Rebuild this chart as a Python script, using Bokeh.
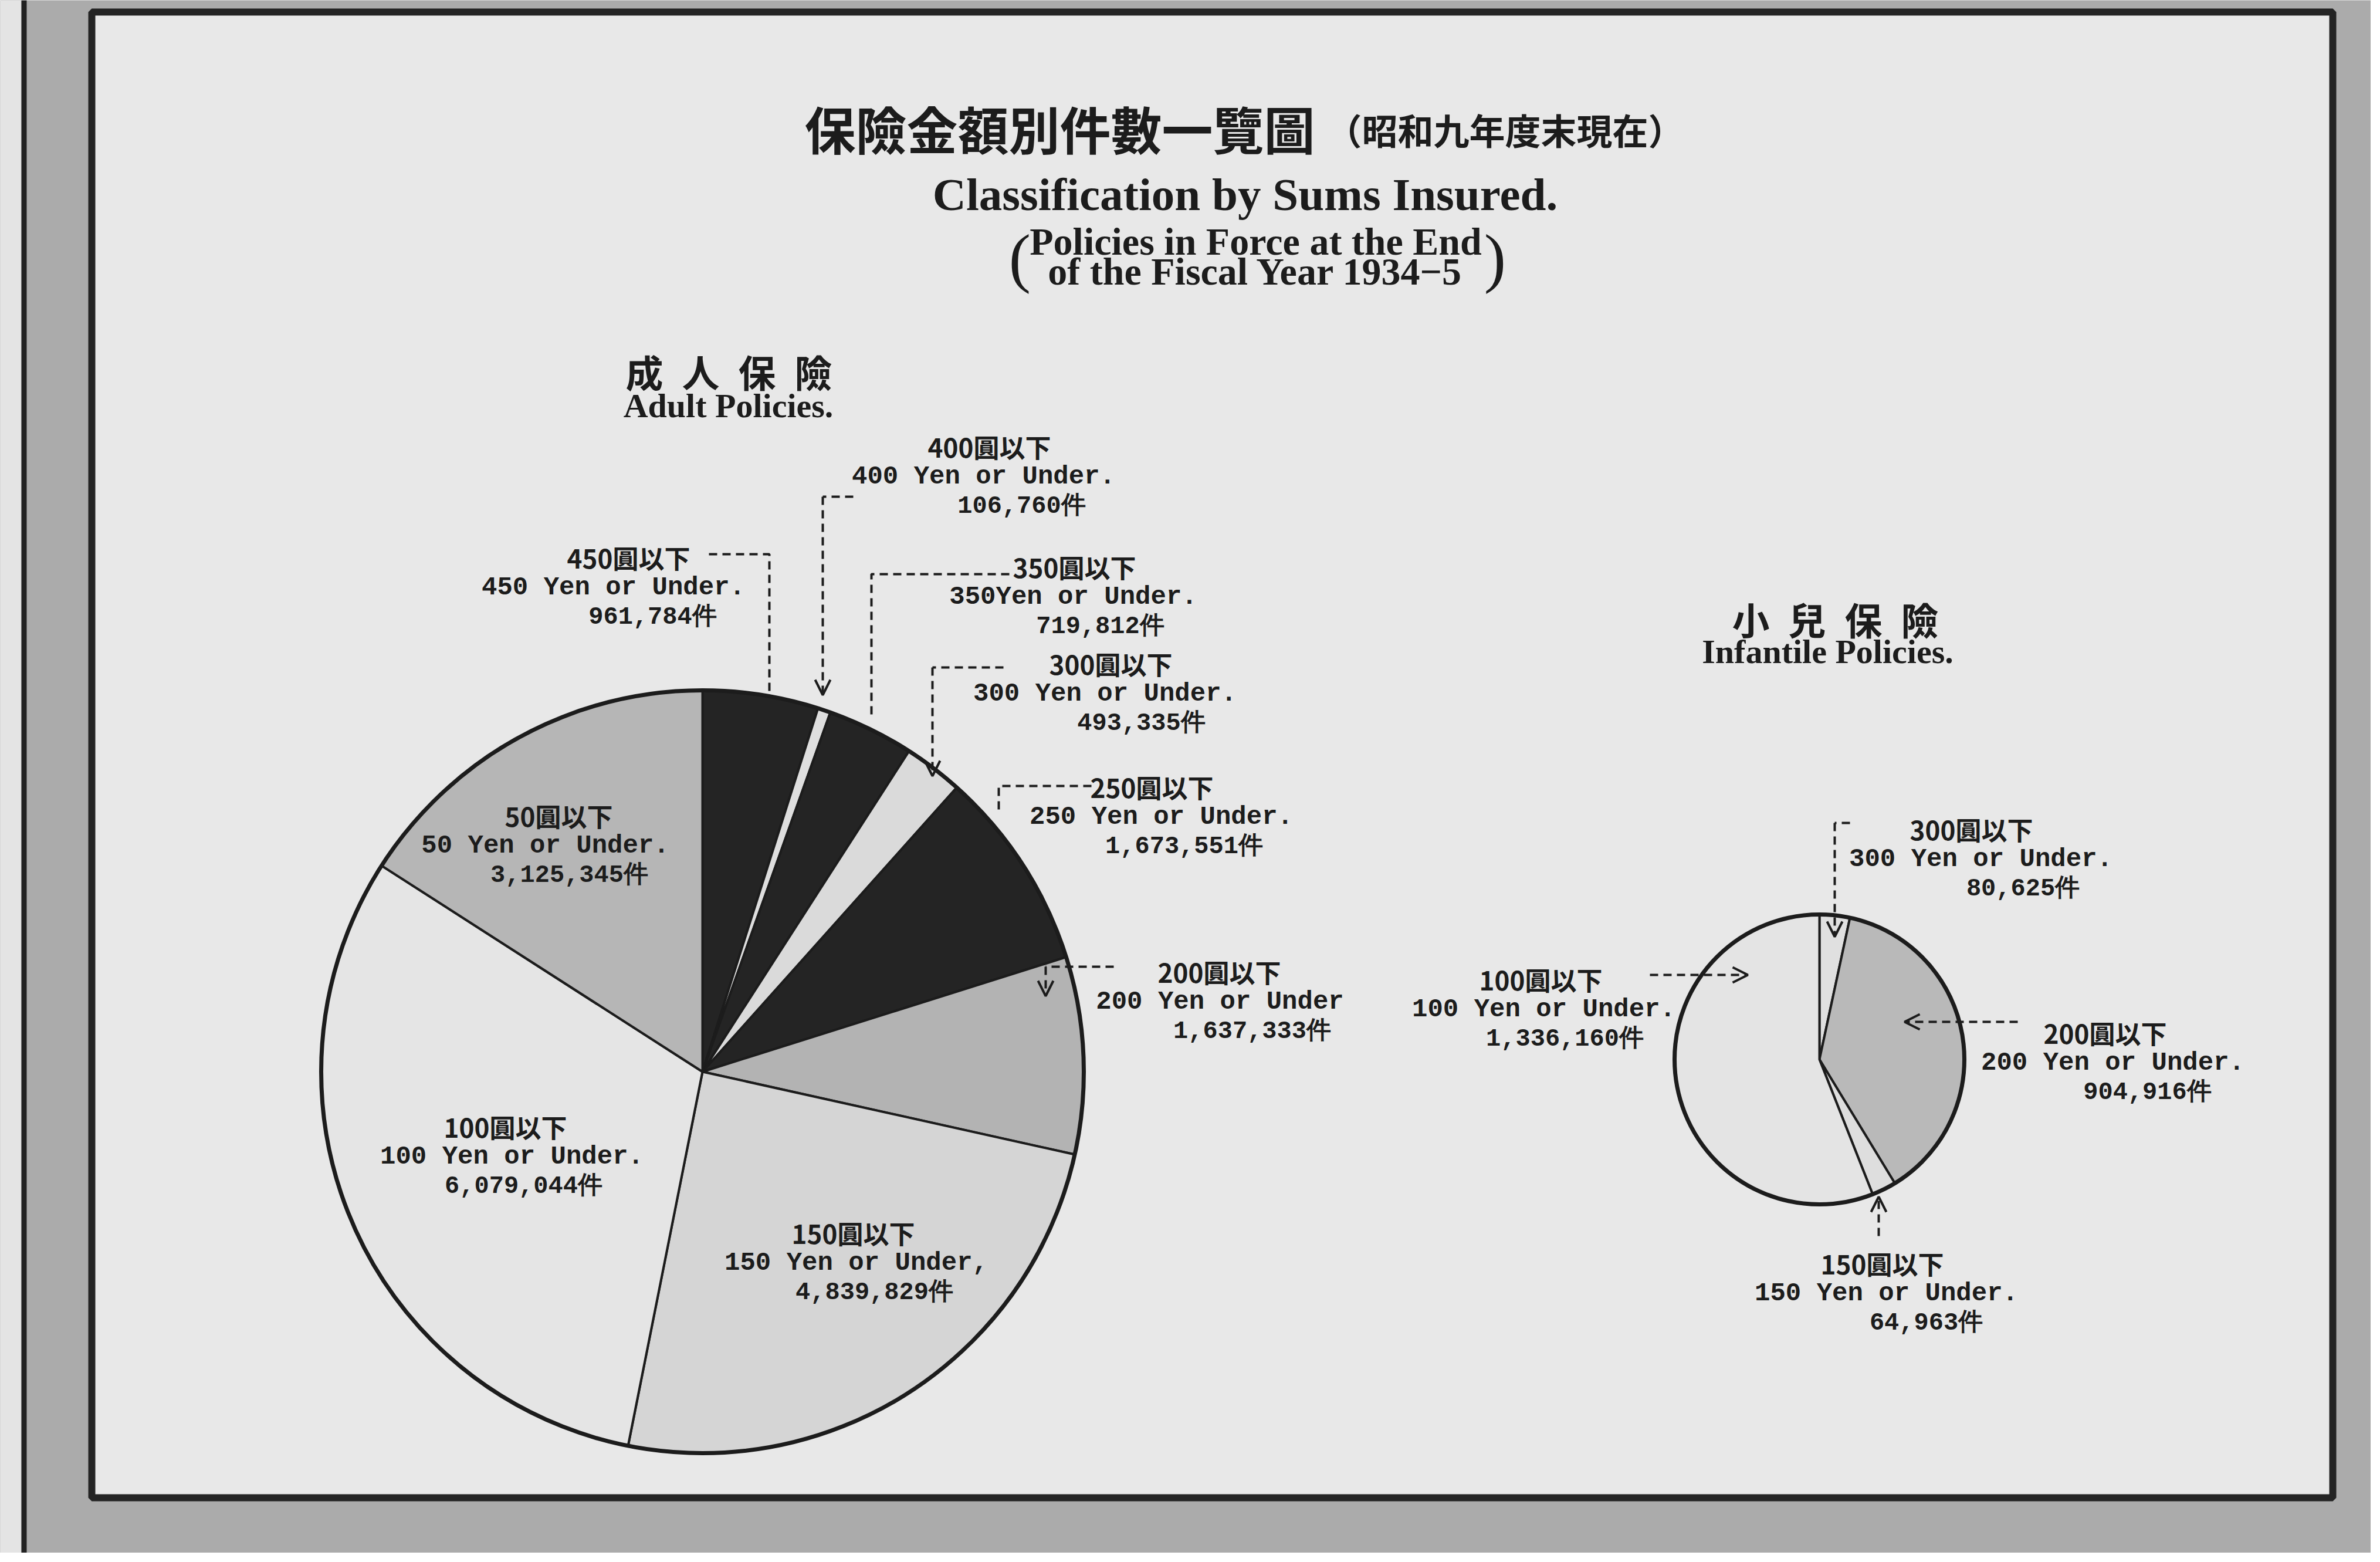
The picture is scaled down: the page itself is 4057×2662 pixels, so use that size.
import math
from bokeh.plotting import figure
from bokeh.models import Range1d, BoxAnnotation, Arrow, OpenHead
from bokeh.core.properties import value
from bokeh.embed import file_html
from bokeh.resources import INLINE

# ---------------- data (clockwise from 12 o'clock) ----------------
adult_jp = ["450圓以下", "400圓以下", "350圓以下", "300圓以下", "250圓以下",
            "200圓以下", "150圓以下", "100圓以下", "50圓以下"]
adult_en = ["450 Yen or Under.", "400 Yen or Under.", "350Yen or Under.",
            "300 Yen or Under.", "250 Yen or Under.", "200 Yen or Under",
            "150 Yen or Under,", "100 Yen or Under.", "50 Yen or Under."]
adult_counts = [961784, 106760, 719812, 493335, 1673551,
                1637333, 4839829, 6079044, 3125345]

infant_jp = ["300圓以下", "200圓以下", "150圓以下", "100圓以下"]
infant_en = ["300 Yen or Under.", "200 Yen or Under.", "150 Yen or Under.",
             "100 Yen or Under."]
infant_counts = [80625, 904916, 64963, 1336160]

title_jp = "保險金額別件數一覽圖"
title_jp_sub = "（昭和九年度末現在）"
title_en = "Classification by Sums Insured."
title_en_sub = ["Policies in Force at the End", "of the Fiscal Year 1934−5"]
adult_head = ["成\u2002人\u2002保\u2002險", "Adult Policies."]
infant_head = ["小\u2002兒\u2002保\u2002險", "Infantile Policies."]

# ---------------- styles / layout ----------------
adult_colors = ["#242424", "#dedede", "#242424", "#dadada", "#242424",
                "#b3b3b3", "#d5d5d5", "#e5e5e5", "#b6b6b6"]
infant_colors = ["#e0e0e0", "#b9b9b9", "#dedede", "#e4e4e4"]
INK = "#1c1c1c"

W, H, M = 4057, 2662, 8
FW, FH = W - 2 * M, H - 2 * M


def Y(sy):
    return H - sy


# label layout: (x line1, x line2, x line3, y line1) in page pixels
adult_pos = [(1079, 1053, 1120, 957), (1694, 1684, 1749, 768),
             (1839, 1837, 1883, 973), (1901, 1891, 1953, 1138),
             (1971, 1987, 2026, 1348), (2086, 2087, 2142, 1663),
             (1462, 1467, 1498, 2108), (869, 880, 900, 1927),
             (960, 937, 978, 1397)]
infant_pos = [(3368, 3384, 3456, 1420), (3596, 3609, 3668, 1767),
              (3216, 3223, 3291, 2160), (2634, 2639, 2675, 1676)]
LINE_DY = 51

adult_leaders = [([(1216, 952), (1319, 952), (1319, 1192)], False),
                 ([(1462, 854), (1410, 854), (1410, 1192)], True),
                 ([(1728, 986), (1493, 986), (1493, 1234)], False),
                 ([(1718, 1145), (1597, 1145), (1597, 1330)], True),
                 ([(1868, 1347), (1710, 1347), (1710, 1387)], False),
                 ([(1906, 1655), (1790, 1655), (1790, 1705)], True)]
infant_leaders = [([(3161, 1410), (3135, 1410), (3135, 1604)], True),
                  ([(2820, 1669), (2987, 1669)], True),
                  ([(3447, 1749), (3254, 1749)], True),
                  ([(3210, 2114), (3210, 2047)], True)]

p = figure(width=FW, height=FH, output_backend="svg", toolbar_location=None,
           x_range=Range1d(M, W - M), y_range=Range1d(M, H - M),
           x_axis_type=None, y_axis_type=None, min_border=0,
           background_fill_color="#ababab", border_fill_color="#ababab",
           outline_line_color=None)
p.grid.visible = False

# frame
p.add_layout(BoxAnnotation(left=M, right=44, bottom=M, top=H - M,
                           fill_color="#e4e4e4", fill_alpha=1, line_alpha=0,
                           level="underlay"))
p.add_layout(BoxAnnotation(left=44, right=53, bottom=M, top=H - M,
                           fill_color="#222222", fill_alpha=1, line_alpha=0,
                           level="underlay"))
p.add_layout(BoxAnnotation(left=164, right=3984, bottom=Y(2560), top=Y(28),
                           fill_color="#e8e8e8", fill_alpha=1,
                           line_color="#242424", line_alpha=1, line_width=12,
                           level="underlay"))


def pie(cx, cy, r, counts, colors):
    total = float(sum(counts))
    starts, ends, cum = [], [], 0.0
    for c in counts:
        a0 = math.pi / 2 - 2 * math.pi * cum / total
        cum += c
        a1 = math.pi / 2 - 2 * math.pi * cum / total
        starts.append(a1)
        ends.append(a0)
    n = len(counts)
    p.wedge(x=[cx] * n, y=[Y(cy)] * n, radius=r, start_angle=starts,
            end_angle=ends, direction="anticlock", fill_color=colors,
            line_color=INK, line_width=4)
    p.circle(x=[cx], y=[Y(cy)], radius=r, fill_color=None,
             line_color=INK, line_width=7)


pie(1205, 1834, 650, adult_counts, adult_colors)
pie(3109, 1813, 247, infant_counts, infant_colors)


def labels(jp, en, counts, pos):
    x1 = [q[0] for q in pos]
    x2 = [q[1] for q in pos]
    x3 = [q[2] for q in pos]
    y1 = [Y(q[3]) for q in pos]
    y2 = [Y(q[3] + LINE_DY) for q in pos]
    y3 = [Y(q[3] + 2 * LINE_DY) for q in pos]
    p.text(x=x1, y=y1, text=jp, text_align="center", text_baseline="middle",
           text_font=value("Noto Sans CJK JP"), text_font_style="bold",
           text_font_size=value("44px"), text_color=INK)
    p.text(x=x2, y=y2, text=en, text_align="center", text_baseline="middle",
           text_font=value("Liberation Mono"), text_font_style="bold",
           text_font_size=value("44px"), text_color=INK)
    p.text(x=x3, y=y3, text=[f"{c:,}件" for c in counts], text_align="center",
           text_baseline="middle", text_font=value("Liberation Mono"),
           text_font_style="bold", text_font_size=value("42px"),
           text_color=INK)


labels(adult_jp, adult_en, adult_counts, adult_pos)
labels(infant_jp, infant_en, infant_counts, infant_pos)


def leader(pts, arrow):
    segs = pts[:-1] if arrow else pts
    if len(segs) >= 2:
        p.line(x=[q[0] for q in segs], y=[Y(q[1]) for q in segs],
               line_color=INK, line_width=4, line_dash="14 9")
    if arrow:
        (xa, ya), (xb, yb) = pts[-2], pts[-1]
        p.add_layout(Arrow(x_start=xa, y_start=Y(ya), x_end=xb, y_end=Y(yb),
                           line_color=INK, line_width=4, line_dash="14 9",
                           end=OpenHead(size=26, line_color=INK,
                                        line_width=4)))


for pts, a in adult_leaders + infant_leaders:
    leader(pts, a)

# titles
p.text(x=[1379], y=[Y(225)], text=[title_jp], text_align="left",
       text_baseline="middle", text_font=value("Noto Sans CJK JP"),
       text_font_style="bold", text_font_size=value("87px"), text_color=INK)
p.text(x=[2268], y=[Y(228)], text=[title_jp_sub], text_align="left",
       text_baseline="middle", text_font=value("Noto Sans CJK JP"),
       text_font_style="bold", text_font_size=value("61px"), text_color=INK)
p.text(x=[2130], y=[Y(339)], text=[title_en], text_align="center",
       text_baseline="middle", text_font=value("Liberation Serif"),
       text_font_style="bold", text_font_size=value("79px"), text_color=INK)
p.text(x=[2148, 2148], y=[Y(419), Y(470)], text=title_en_sub,
       text_align="center", text_baseline="middle",
       text_font=value("Liberation Serif"), text_font_style="bold",
       text_font_size=value("66px"), text_color=INK)
p.text(x=[1746, 2556], y=[Y(446), Y(446)], text=["(", ")"],
       text_align="center", text_baseline="middle",
       text_font=value("Liberation Serif"), text_font_size=value("112px"),
       text_color=INK)

# section headings
p.text(x=[1250, 3136], y=[Y(639), Y(1061)], text=[adult_head[0], infant_head[0]],
       text_align="center", text_baseline="middle",
       text_font=value("Noto Sans CJK JP"), text_font_style="bold",
       text_font_size=value("64px"), text_color=INK)
p.text(x=[1249, 3123], y=[Y(699), Y(1118)], text=[adult_head[1], infant_head[1]],
       text_align="center", text_baseline="middle",
       text_font=value("Liberation Serif"), text_font_style="bold",
       text_font_size=value("58px"), text_color=INK)

html = file_html(p, INLINE, title="保險金額別件數一覽圖")
html = html.replace("<body>", '<body style="background:#ababab">', 1)
open("out.html", "w").write(html)
